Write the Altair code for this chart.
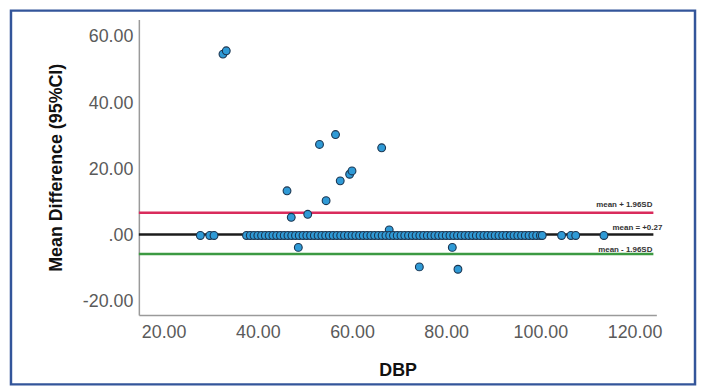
import altair as alt
import pandas as pd

# Outlying points (DBP, mean difference)
dbp_out = [32.6, 33.3, 46.2, 47.1, 50.6, 53.1, 54.5, 56.5, 57.5, 59.5, 60.0, 66.3, 67.9,
           48.6, 81.3, 74.3, 82.5]
diff_out = [54.8, 55.8, 13.5, 5.5, 6.4, 27.5, 10.5, 30.5, 16.5, 18.5, 19.5, 26.5, 1.7,
            -3.6, -3.6, -9.5, -10.2]

# Points lying on the zero line
dbp_zero = [27.8, 29.8, 30.7,
            37.6, 38.4, 39.2, 40, 40.8, 41.6, 42.4, 43.2, 44, 44.8, 45.6, 46.4, 47.2, 48,
            48.8, 49.6, 50.4, 51.2, 52, 52.8, 53.6, 54.4, 55.2, 56, 56.8, 57.6, 58.4, 59.2,
            60, 60.8, 61.6, 62.4, 63.2, 64, 64.8, 65.6, 66.4, 67.2, 68, 68.8, 69.6, 70.4,
            71.2, 72, 72.8, 73.6, 74.4, 75.2, 76, 76.8, 77.6, 78.4, 79.2, 80, 80.8, 81.6,
            82.4, 83.2, 84, 84.8, 85.6, 86.4, 87.2, 88, 88.8, 89.6, 90.4, 91.2, 92, 92.8,
            93.6, 94.4, 95.2, 96, 96.8, 97.6, 98.4, 99.2, 100, 100.4,
            104.5, 106.5, 107.5, 113.5]
diff_zero = [0.0] * len(dbp_zero)

# Reference lines
line_labels = ["mean + 1.96SD", "mean = +0.27", "mean - 1.96SD"]
line_values = [6.9, 0.27, -5.6]
line_colors = ["#d92b5c", "#1c1c1c", "#3c9a42"]

pts = pd.DataFrame({"DBP": dbp_out + dbp_zero, "diff": diff_out + diff_zero})
lines = pd.DataFrame({"label": line_labels, "value": line_values, "color": line_colors})

x_scale = alt.Scale(domain=[14.74, 124.63], nice=False, zero=False)
y_scale = alt.Scale(domain=[-24.02, 65.24], nice=False, zero=False)

x_axis = alt.Axis(values=[20, 40, 60, 80, 100, 120], format=".2f", grid=False, ticks=False,
                  tickSize=0, labelPadding=9, labelFontSize=18, labelColor="#5a5a5a",
                  labelFont="Liberation Sans", domainColor="#9a9a9a", domainWidth=1.5,
                  title="DBP", titleFontSize=18, titleFont="Liberation Sans",
                  titleFontWeight="bold", titleColor="#111111", titleX=261, titleY=56,
                  titleBaseline="middle", titleAlign="center")
y_axis = alt.Axis(values=[-20, 0, 20, 40, 60], grid=False, ticks=False, tickSize=0,
                  labelExpr="datum.value == 0 ? '.00' : (datum.value < 0 ? '-' : '') + format(abs(datum.value), '.2f')",
                  labelPadding=6, labelFontSize=18, labelColor="#5a5a5a",
                  labelFont="Liberation Sans", domainColor="#9a9a9a", domainWidth=1.5,
                  title="Mean Difference (95%CI)", titleFontSize=18, titleFont="Liberation Sans",
                  titleFontWeight="bold", titleColor="#111111", titleAngle=-90,
                  titleX=-83, titleY=149, titleBaseline="middle", titleAlign="center")

frame = alt.Chart(pd.DataFrame({"k": [0]})).mark_rect(
    fillOpacity=0, stroke="#33559a", strokeWidth=2.5
).encode(x=alt.value(-129), x2=alt.value(561), y=alt.value(-9), y2=alt.value(368))

rules = alt.Chart(lines).mark_rule(strokeWidth=2.5).encode(
    y=alt.Y("value:Q", scale=y_scale, axis=y_axis),
    x=alt.value(0), x2=alt.value(519),
    color=alt.Color("color:N", scale=None),
)

points = alt.Chart(pts).mark_point(
    filled=True, size=62, fill="#2f9ad6", stroke="#1b3550", strokeWidth=1.1, opacity=1
).encode(
    x=alt.X("DBP:Q", scale=x_scale, axis=x_axis),
    y=alt.Y("diff:Q", scale=y_scale, axis=y_axis),
)

text_layers = []
offsets = [-7.5, -7, -4.5]
rights = [518, 528, 518]
for i in range(3):
    t = alt.Chart(lines.iloc[[i]]).mark_text(
        align="right", baseline="middle", fontSize=8, fontWeight="bold",
        font="Liberation Sans", color="#333333", dy=offsets[i]
    ).encode(
        y=alt.Y("value:Q", scale=y_scale, axis=y_axis),
        x=alt.value(rights[i]),
        text="label:N",
    )
    text_layers.append(t)

chart = alt.layer(frame, rules, points, *text_layers).properties(
    width=522, height=298,
    padding={"left": 132, "top": 10, "right": 41, "bottom": 72},
    autosize=alt.AutoSizeParams(type="none"),
).configure_view(stroke=None)

chart.save("out.html", embed_options={"renderer": "svg", "actions": False})
